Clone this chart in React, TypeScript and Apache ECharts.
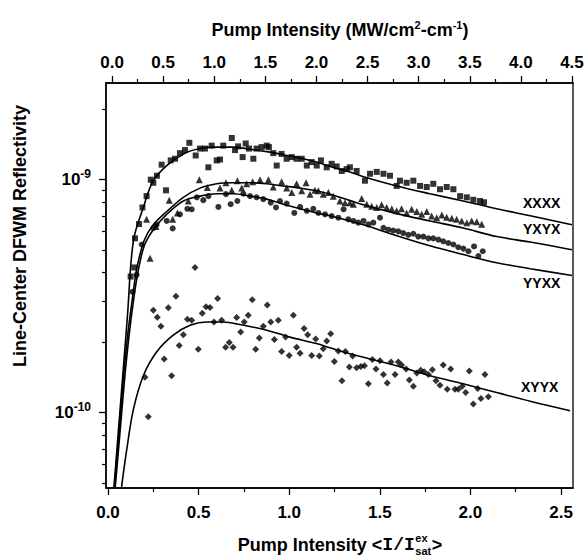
import React, { useEffect, useRef } from "react";
import * as echarts from "echarts";

// ---- axes (bottom in <I/I_sat>, top in MW/cm2-cm-1, left log, values in units of 1e-10) ----
const X_MIN = -0.011;
const X_MAX = 2.566;
const TOP_MIN = -0.059;
const TOP_MAX = 4.51;
const Y_MIN = 0.475;
const Y_MAX = 26;
const X_TICKS = [0, 0.5, 1.0, 1.5, 2.0, 2.5];
const X_MINOR = [0.25, 0.75, 1.25, 1.75, 2.25];
const TOP_TICKS = [0, 0.5, 1.0, 1.5, 2.0, 2.5, 3.0, 3.5, 4.0, 4.5];
const TOP_MINOR = [0.25, 0.75, 1.25, 1.75, 2.25, 2.75, 3.25, 3.75, 4.25];
const Y_MAJOR = [1, 10];
const Y_MINOR = [0.5, 0.6, 0.7, 0.8, 0.9, 2, 3, 4, 5, 6, 7, 8, 9, 20];

const SERIES_NAMES = ["XXXX", "YXYX", "YYXX", "XYYX"];

// ---- fitted curves ----
const XXXX_FIT: [number, number][] = [
  [0.033, 0.48], [0.057, 0.83], [0.082, 1.46], [0.107, 2.58], [0.14, 5.45], [0.195, 7.6],
  [0.25, 9.9], [0.324, 11.5], [0.416, 12.9], [0.508, 13.6], [0.6, 13.8], [0.69, 13.8],
  [0.784, 13.5], [0.876, 13.2], [0.967, 12.8], [1.06, 12.4], [1.15, 11.9], [1.24, 11.3],
  [1.335, 10.8], [1.41, 10.3], [1.593, 9.4], [1.777, 8.7], [1.96, 8.1], [2.145, 7.5],
  [2.33, 7.0], [2.56, 6.4],
];
const YXYX_FIT: [number, number][] = [
  [0.035, 0.48], [0.06, 0.8], [0.085, 1.4], [0.11, 2.2], [0.135, 3.1], [0.16, 4.2],
  [0.2, 5.5], [0.25, 6.4], [0.324, 7.3], [0.416, 8.4], [0.508, 9.2], [0.6, 9.6],
  [0.69, 9.7], [0.784, 9.7], [0.876, 9.6], [0.967, 9.4], [1.06, 9.2], [1.15, 8.96],
  [1.24, 8.6], [1.41, 7.8], [1.593, 7.15], [1.777, 6.65], [1.96, 6.2], [2.145, 5.7],
  [2.33, 5.4], [2.56, 5.0],
];
const YYXX_FIT: [number, number][] = [
  [0.04, 0.48], [0.065, 0.8], [0.09, 1.35], [0.115, 2.1], [0.14, 3.0], [0.165, 4.0],
  [0.2, 5.2], [0.25, 6.1], [0.324, 7.1], [0.416, 8.1], [0.508, 8.5], [0.6, 8.7],
  [0.69, 8.7], [0.784, 8.5], [0.876, 8.25], [0.967, 7.85], [1.06, 7.5], [1.15, 7.2],
  [1.24, 6.95], [1.41, 6.4], [1.593, 5.75], [1.777, 5.2], [1.96, 4.77], [2.145, 4.4],
  [2.33, 4.15], [2.56, 3.88],
];
const XYYX_FIT: [number, number][] = [
  [0.075, 0.48], [0.103, 0.69], [0.14, 1.03], [0.195, 1.44], [0.268, 1.82], [0.36, 2.15],
  [0.453, 2.37], [0.545, 2.45], [0.636, 2.45], [0.728, 2.39], [0.876, 2.26], [1.004, 2.11],
  [1.15, 1.98], [1.225, 1.9], [1.335, 1.79], [1.41, 1.73], [1.593, 1.59], [1.777, 1.44],
  [1.96, 1.33], [2.145, 1.22], [2.33, 1.12], [2.55, 1.02],
];

// ---- measured points ----
const XXXX_PTS: [number, number][] = [
  [0.125, 3.84], [0.145, 4.2], [0.149, 5.6], [0.171, 6.45], [0.19, 7.6], [0.213, 8.5],
  [0.236, 10.0], [0.25, 9.7], [0.27, 10.4], [0.296, 11.6], [0.32, 9.0], [0.346, 12.1],
  [0.37, 12.3], [0.397, 13.0], [0.425, 13.4], [0.449, 14.4], [0.484, 12.7], [0.508, 13.6],
  [0.535, 13.6], [0.554, 11.3], [0.572, 14.0], [0.6, 12.1], [0.618, 12.2], [0.636, 14.0],
  [0.683, 15.1], [0.701, 13.4], [0.718, 13.9], [0.743, 12.5], [0.76, 14.3], [0.778, 13.6],
  [0.802, 12.3], [0.82, 13.6], [0.848, 13.8], [0.876, 14.0], [0.888, 13.8], [0.912, 13.0],
  [0.931, 11.5], [0.958, 12.9], [0.986, 12.3], [1.014, 12.5], [1.04, 12.3], [1.069, 12.3],
  [1.097, 11.5], [1.124, 11.9], [1.152, 11.5], [1.175, 12.1], [1.207, 11.3], [1.234, 11.7],
  [1.262, 11.4], [1.29, 10.9], [1.317, 11.1], [1.335, 11.3], [1.372, 10.9], [1.418, 9.9],
  [1.446, 10.6], [1.483, 10.8], [1.52, 10.6], [1.556, 10.4], [1.593, 9.4], [1.611, 9.9],
  [1.648, 9.7], [1.685, 9.9], [1.722, 9.4], [1.759, 9.3], [1.795, 9.6], [1.832, 9.1],
  [1.869, 9.3], [1.906, 9.1], [1.943, 8.5], [1.98, 8.4], [2.016, 8.2], [2.053, 8.1],
  [2.075, 8.0],
];
const YXYX_PTS: [number, number][] = [
  [0.213, 6.76], [0.232, 4.6], [0.265, 6.3], [0.338, 8.17], [0.357, 6.76], [0.383, 7.2],
  [0.443, 8.1], [0.504, 10.0], [0.548, 9.26], [0.618, 9.2], [0.651, 9.7], [0.683, 9.0],
  [0.714, 9.9], [0.738, 9.2], [0.765, 9.6], [0.798, 9.8], [0.839, 10.0], [0.885, 10.0],
  [0.912, 9.3], [0.958, 9.8], [0.986, 9.2], [1.014, 8.8], [1.041, 9.6], [1.069, 8.96],
  [1.093, 9.7], [1.115, 8.67], [1.142, 9.0], [1.161, 8.96], [1.188, 8.67], [1.216, 8.8],
  [1.243, 8.5], [1.28, 8.1], [1.308, 7.97], [1.335, 7.97], [1.354, 7.85], [1.4, 8.3],
  [1.428, 7.85], [1.455, 7.7], [1.483, 7.6], [1.51, 7.8], [1.538, 7.6], [1.566, 7.5],
  [1.593, 7.35], [1.62, 7.5], [1.648, 7.2], [1.676, 7.46], [1.704, 7.3], [1.731, 7.1],
  [1.759, 7.3], [1.786, 6.98], [1.814, 6.87], [1.842, 7.06], [1.869, 6.9], [1.897, 6.83],
  [1.924, 6.76], [1.952, 6.65], [1.98, 6.54], [2.007, 6.65], [2.035, 6.6], [2.062, 6.43],
];
const YYXX_PTS: [number, number][] = [
  [0.135, 3.3], [0.158, 3.9], [0.186, 5.27], [0.25, 6.2], [0.268, 6.4], [0.324, 6.65],
  [0.357, 6.18], [0.397, 7.1], [0.438, 7.5], [0.462, 7.46], [0.49, 8.4], [0.526, 8.17],
  [0.554, 8.5], [0.609, 7.64], [0.651, 8.67], [0.677, 7.85], [0.714, 8.1], [0.747, 8.7],
  [0.784, 8.5], [0.82, 8.4], [0.857, 8.25], [0.898, 7.97], [0.927, 7.6], [0.949, 8.1],
  [0.986, 7.9], [1.028, 7.2], [1.06, 7.64], [1.097, 7.35], [1.133, 7.5], [1.161, 7.2],
  [1.198, 7.1], [1.234, 6.98], [1.271, 6.87], [1.3, 7.46], [1.326, 6.76], [1.354, 6.65],
  [1.381, 6.54], [1.41, 6.65], [1.437, 6.43], [1.464, 6.54], [1.501, 6.87], [1.52, 6.22],
  [1.547, 6.1], [1.574, 6.05], [1.602, 6.0], [1.629, 5.9], [1.657, 5.8], [1.685, 5.86],
  [1.712, 5.7], [1.74, 5.7], [1.768, 5.6], [1.795, 5.6], [1.823, 5.53], [1.85, 5.44],
  [1.878, 5.35], [1.906, 5.27], [1.933, 5.13], [1.961, 5.06], [1.989, 4.93], [2.02, 5.17],
  [2.044, 4.7], [2.068, 4.93],
];
const XYYX_PTS: [number, number][] = [
  [0.48, 4.2], [0.222, 0.96], [0.204, 1.42], [0.25, 2.75], [0.272, 2.57], [0.292, 2.35],
  [0.31, 1.7], [0.333, 2.82], [0.351, 1.44], [0.375, 3.16], [0.393, 1.94], [0.416, 2.16],
  [0.438, 2.52], [0.462, 2.49], [0.498, 1.87], [0.52, 2.67], [0.541, 2.85], [0.563, 2.83],
  [0.585, 2.45], [0.605, 3.09], [0.627, 2.49], [0.649, 1.91], [0.669, 2.0], [0.69, 1.91],
  [0.71, 2.56], [0.732, 2.22], [0.752, 2.45], [0.774, 2.62], [0.796, 3.05], [0.815, 1.87],
  [0.835, 2.09], [0.857, 2.35], [0.879, 2.9], [0.898, 2.45], [0.918, 2.06], [0.94, 2.49],
  [0.958, 1.83], [0.98, 2.11], [1.0, 1.76], [1.023, 2.62], [1.041, 1.91], [1.06, 1.8],
  [1.082, 2.3], [1.102, 2.16], [1.124, 1.76], [1.146, 2.07], [1.166, 1.75], [1.188, 1.88],
  [1.207, 2.03], [1.229, 2.18], [1.249, 1.66], [1.271, 1.84], [1.291, 1.37], [1.31, 1.83],
  [1.332, 1.57], [1.35, 1.75], [1.372, 1.56], [1.395, 1.58], [1.415, 1.59], [1.437, 1.33],
  [1.459, 1.69], [1.479, 1.54], [1.501, 1.67], [1.52, 1.46], [1.541, 1.34], [1.562, 1.65],
  [1.584, 1.46], [1.602, 1.65], [1.62, 1.6], [1.645, 1.54], [1.663, 1.38], [1.685, 1.3],
  [1.704, 1.48], [1.726, 1.52], [1.745, 1.5], [1.768, 1.46], [1.79, 1.53], [1.81, 1.37],
  [1.832, 1.31], [1.85, 1.6], [1.872, 1.26], [1.891, 1.54], [1.915, 1.26], [1.933, 1.26],
  [1.955, 1.3], [1.974, 1.22], [1.994, 1.51], [2.016, 1.09], [2.04, 1.27], [2.058, 1.15],
  [2.08, 1.46], [2.099, 1.17],
];

const SANS = '"Liberation Sans", Arial, Helvetica, sans-serif';

export default function App() {
  const ref = useRef<HTMLDivElement>(null);

  useEffect(() => {
    document.body.style.margin = "0";
    if (!ref.current) return;
    const chart = echarts.init(ref.current, null, { renderer: "svg" });

    // measure bottom title parts so the stacked ex/sat can be placed
    const cvs = document.createElement("canvas").getContext("2d")!;
    const mw = (t: string, f: string) => {
      cvs.font = f;
      return cvs.measureText(t).width;
    };
    const fMain = `bold 18px ${SANS}`;
    const fMono = 'bold 18px "Liberation Mono", monospace';
    const fSmall = `bold 11px ${SANS}`;
    const w1 = mw("Pump Intensity <", fMain);
    const w2 = mw("I/I", fMono);
    const w3 = mw("sat", fSmall);
    const w4 = mw(">", fMain);
    const total = w1 + w2 + w3 + 1 + w4;
    const bx = 340 - total / 2;
    const by = 545;

    const txt = (text: string, x: number, y: number, font: string, align = "left", extra: any = {}) => ({
      type: "text",
      x,
      y,
      silent: true,
      ...extra,
      style: {
        text,
        fill: "#000",
        font,
        align,
        verticalAlign: "middle",
        textAlign: align,
        textVerticalAlign: "middle",
        ...(extra.rich ? { rich: extra.rich } : {}),
      },
    });

    const axisCommon = {
      splitLine: { show: false },
      splitArea: { show: false },
    };
    const tickLabel = {
      color: "#000",
      fontFamily: SANS,
      fontWeight: "bold",
      fontSize: 17,
    };

    const option: any = {
      animation: false,
      backgroundColor: "#fff",
      grid: {
        left: 106,
        right: 15,
        top: 83,
        bottom: 72,
        show: true,
        borderColor: "#000",
        borderWidth: 1.3,
        containLabel: false,
        outerBoundsMode: "none",
      },
      xAxis: [
        {
          type: "value",
          position: "bottom",
          min: X_MIN,
          max: X_MAX,
          ...axisCommon,
          axisLine: { show: true, onZero: false, lineStyle: { color: "#000", width: 1.5 } },
          axisTick: { show: true, length: 7, customValues: X_TICKS, lineStyle: { color: "#000", width: 1.3 } },
          axisLabel: {
            show: true,
            customValues: X_TICKS,
            margin: 16,
            ...tickLabel,
            formatter: (v: number) => v.toFixed(1),
          },
        },
        {
          type: "value",
          position: "bottom",
          min: X_MIN,
          max: X_MAX,
          ...axisCommon,
          axisLine: { show: false, onZero: false },
          axisTick: { show: true, length: 4, customValues: X_MINOR, lineStyle: { color: "#000", width: 1.2 } },
          axisLabel: { show: false },
        },
        {
          type: "value",
          position: "top",
          min: TOP_MIN,
          max: TOP_MAX,
          ...axisCommon,
          axisLine: { show: true, onZero: false, lineStyle: { color: "#000", width: 1.5 } },
          axisTick: { show: true, length: 7, customValues: TOP_TICKS, lineStyle: { color: "#000", width: 1.3 } },
          axisLabel: {
            show: true,
            customValues: TOP_TICKS,
            margin: 12,
            ...tickLabel,
            formatter: (v: number) => v.toFixed(1),
          },
        },
        {
          type: "value",
          position: "top",
          min: TOP_MIN,
          max: TOP_MAX,
          ...axisCommon,
          axisLine: { show: false, onZero: false },
          axisTick: { show: true, length: 4, customValues: TOP_MINOR, lineStyle: { color: "#000", width: 1.2 } },
          axisLabel: { show: false },
        },
      ],
      yAxis: [
        {
          type: "log",
          logBase: 10,
          position: "left",
          min: Y_MIN,
          max: Y_MAX,
          ...axisCommon,
          axisLine: { show: true, onZero: false, lineStyle: { color: "#000", width: 1.5 } },
          axisTick: { show: true, length: 7, customValues: Y_MAJOR, lineStyle: { color: "#000", width: 1.3 } },
          axisLabel: {
            show: true,
            customValues: Y_MAJOR,
            margin: 15,
            ...tickLabel,
            formatter: (v: number) => `10{sup|${Math.round(Math.log10(v)) - 10}}`,
            rich: {
              sup: {
                fontFamily: SANS,
                fontWeight: "bold",
                fontSize: 12,
                color: "#000",
                padding: [0, 0, 11, 0],
              },
            },
          },
        },
        {
          type: "log",
          logBase: 10,
          position: "left",
          min: Y_MIN,
          max: Y_MAX,
          ...axisCommon,
          axisLine: { show: false, onZero: false },
          axisTick: { show: true, length: 4, customValues: Y_MINOR, lineStyle: { color: "#000", width: 1.2 } },
          axisLabel: { show: false },
        },
      ],
      series: [
        ...[XXXX_FIT, YXYX_FIT, YYXX_FIT, XYYX_FIT].map((d, i) => ({
          name: SERIES_NAMES[i] + " fit",
          type: "line",
          xAxisIndex: 0,
          yAxisIndex: 0,
          data: d,
          smooth: 0.35,
          symbol: "none",
          showSymbol: false,
          silent: true,
          z: 3,
          lineStyle: { color: "#000", width: 1.6 },
        })),
        ...[
          { d: XXXX_PTS, s: "rect", size: 6 },
          { d: YXYX_PTS, s: "triangle", size: 7 },
          { d: YYXX_PTS, s: "circle", size: 6 },
          { d: XYYX_PTS, s: "diamond", size: 7 },
        ].map((o, i) => ({
          name: SERIES_NAMES[i],
          type: "scatter",
          xAxisIndex: 0,
          yAxisIndex: 0,
          data: o.d,
          symbol: o.s,
          symbolSize: o.size,
          silent: true,
          z: 4,
          itemStyle: { color: "#000", borderWidth: 0 },
        })),
      ],
      graphic: [
        txt("Pump Intensity (MW/cm{sup|2}-cm{sup|-1})", 340, 30, `bold 18px ${SANS}`, "center", {
          rich: {
            sup: {
              fontFamily: SANS,
              fontWeight: "bold",
              fontSize: 11,
              fill: "#000",
              color: "#000",
              padding: [0, 0, 11, 0],
            },
          },
        }),
        txt("Line-Center DFWM Reflectivity", 20, 236, `bold 18px ${SANS}`, "center", {
          rotation: Math.PI / 2,
        }),
        txt("Pump Intensity <", bx, by, fMain),
        txt("I/I", bx + w1, by, fMono),
        txt("ex", bx + w1 + w2 + 0.5, by - 7, fSmall),
        txt("sat", bx + w1 + w2 + 0.5, by + 6, fSmall),
        txt(">", bx + w1 + w2 + w3 + 1, by, fMain),
        txt("XXXX", 523, 203, `bold 14px ${SANS}`),
        txt("YXYX", 523, 229, `bold 14px ${SANS}`),
        txt("YYXX", 523, 283, `bold 14px ${SANS}`),
        txt("XYYX", 521, 387, `bold 14px ${SANS}`),
      ],
    };

    chart.setOption(option);
    return () => {
      chart.dispose();
    };
  }, []);

  return <div ref={ref} style={{ width: 588, height: 560 }} />;
}
